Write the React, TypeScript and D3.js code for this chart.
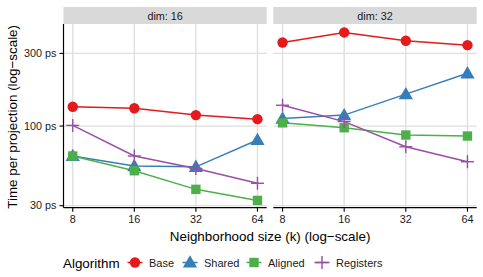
import React from 'react';
import * as d3 from 'd3';

const ks = [8, 16, 32, 64];
const panels = ['dim: 16', 'dim: 32'];
const algorithms = ['Base', 'Shared', 'Aligned', 'Registers'];
const colors = ['#E41A1C', '#377EB8', '#4DAF4A', '#984EA3'];

// values in ps, per panel, per algorithm
const dim16 = [
  [134, 131, 118, 111],
  [63.6, 54.6, 54, 81],
  [63.6, 50.9, 38.4, 32.5],
  [101, 63.6, 52.7, 42.1],
];
const dim32 = [
  [354, 412, 363, 340],
  [112, 118, 162, 222],
  [105, 97.5, 87.3, 86],
  [137, 107, 73.1, 58.3],
];
const panelData = [dim16, dim32];
const yTicks = [30, 100, 300];

const W = 483;
const H = 277;
const font = 'Liberation Sans, Arial, Helvetica, sans-serif';
const plotTop = 24;
const plotBottom = 207.7;
const panelX = [
  [63.5, 266.7],
  [273.3, 476.7],
];
const legendX = [135, 190, 254, 322];

const Marker: React.FC<{ i: number; x: number; y: number }> = ({ i, x, y }) => {
  const c = colors[i];
  if (i === 3) {
    return (
      <g stroke={c} strokeWidth={1.4}>
        <line x1={x - 6.5} x2={x + 6.5} y1={y} y2={y} />
        <line x1={x} x2={x} y1={y - 6.5} y2={y + 6.5} />
      </g>
    );
  }
  const type = i === 0 ? d3.symbolCircle : i === 1 ? d3.symbolTriangle : d3.symbolSquare;
  const size = i === 0 ? 85 : i === 1 ? 88 : 88;
  const dy = i === 1 ? 1 : 0;
  return <path d={d3.symbol(type, size)() || ''} transform={`translate(${x},${y + dy})`} fill={c} />;
};

export default function App() {
  const y = d3.scaleLog().domain([29.1, 468]).range([plotBottom, plotTop]);

  return (
    <svg width={W} height={H} style={{ display: 'block', position: 'absolute', left: 0, top: 0 }} fontFamily={font}>
      <rect width={W} height={H} fill="white" />
      {panels.map((label, p) => {
        const [x0, x1] = panelX[p];
        const x = d3.scaleLog().base(2).domain([8 / Math.pow(2, 0.15), 64 * Math.pow(2, 0.15)]).range([x0, x1]);
        const line = d3.line<number>().x((_, j) => x(ks[j])).y(v => y(v));
        return (
          <g key={label}>
            {/* strip */}
            <rect x={x0} y={7} width={x1 - x0} height={plotTop - 7} fill="#D9D9D9" />
            <text x={(x0 + x1) / 2} y={19.5} textAnchor="middle" fontSize={10.8} fill="#1A1A1A">{label}</text>
            {/* grid */}
            {yTicks.map(t => (
              <line key={t} x1={x0} x2={x1} y1={y(t)} y2={y(t)} stroke="#DEDEDE" strokeWidth={1.3} />
            ))}
            {ks.map(k => (
              <line key={k} x1={x(k)} x2={x(k)} y1={plotTop} y2={plotBottom} stroke="#DEDEDE" strokeWidth={1.3} />
            ))}
            {/* series */}
            {panelData[p].map((vals, i) => (
              <path key={i} d={line(vals) || ''} fill="none" stroke={colors[i]} strokeWidth={1.5} />
            ))}
            {panelData[p].map((vals, i) =>
              vals.map((v, j) => <Marker key={`${i}-${j}`} i={i} x={x(ks[j])} y={y(v)} />)
            )}
            {/* x axis */}
            <line x1={x0} x2={x1} y1={plotBottom} y2={plotBottom} stroke="black" strokeWidth={1.2} />
            {ks.map(k => (
              <g key={k}>
                <line x1={x(k)} x2={x(k)} y1={plotBottom} y2={plotBottom + 4} stroke="black" strokeWidth={1.1} />
                <text x={x(k)} y={plotBottom + 15.5} textAnchor="middle" fontSize={10.8} fill="#1A1A1A">{k}</text>
              </g>
            ))}
          </g>
        );
      })}
      {/* y axis */}
      <line x1={panelX[0][0]} x2={panelX[0][0]} y1={plotTop} y2={plotBottom} stroke="black" strokeWidth={1.2} />
      {yTicks.map(t => (
        <g key={t}>
          <line x1={panelX[0][0] - 4} x2={panelX[0][0]} y1={y(t)} y2={y(t)} stroke="black" strokeWidth={1.1} />
          <text x={panelX[0][0] - 7} y={y(t) + 3.8} textAnchor="end" fontSize={10.8} fill="#1A1A1A">{t} ps</text>
        </g>
      ))}
      <text transform={`translate(17,${(plotTop + plotBottom) / 2 + 1}) rotate(-90)`} textAnchor="middle" fontSize={13.4} fill="black">
        Time per projection (log−scale)
      </text>
      <text x={(panelX[0][0] + panelX[1][1]) / 2} y={240.5} textAnchor="middle" fontSize={13.4} fill="black">
        Neighborhood size (k) (log−scale)
      </text>
      {/* legend */}
      <text x={63} y={267.5} fontSize={13.4} fill="black">Algorithm</text>
      {algorithms.map((a, i) => {
        const lx = legendX[i];
        return (
          <g key={a}>
            <line x1={lx - 7.5} x2={lx + 7.5} y1={262.5} y2={262.5} stroke={colors[i]} strokeWidth={1.5} />
            <Marker i={i} x={lx} y={262.5} />
            <text x={lx + 14} y={266.5} fontSize={11} fill="#1A1A1A">{a}</text>
          </g>
        );
      })}
    </svg>
  );
}
